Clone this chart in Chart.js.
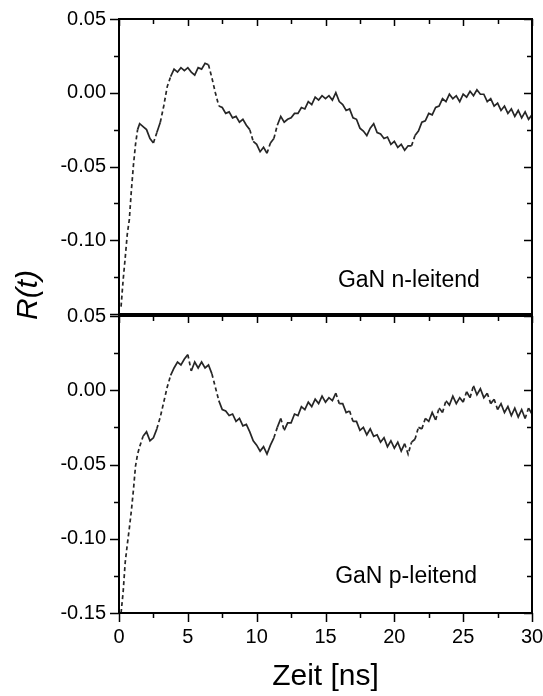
<!DOCTYPE html>
<html>
<head>
<meta charset="utf-8">
<script src="https://cdn.jsdelivr.net/npm/chart.js@4/dist/chart.umd.min.js"></script>
<style>
    html, body { margin: 0; padding: 0; background: #fff; }
    #wrap { position: relative; width: 543px; height: 696px; }
    #wrap canvas { position: absolute; left: 0; }
    #topChart { top: 0; }
    #botChart { top: 296px; }
</style>
</head>
<body>
<div id="wrap">
    <canvas id="topChart" width="543" height="330"></canvas>
    <canvas id="botChart" width="543" height="400"></canvas>
</div>
<script>
/* ---------------- Data ---------------- */

const times = [
    0.15, 0.3, 0.45, 0.6, 0.75, 0.9, 1.05, 1.2, 1.35, 1.5,
    1.75, 2.0, 2.25, 2.5, 2.75, 3.0, 3.25, 3.5, 3.75, 4.0,
    4.25, 4.5, 4.75, 5.0, 5.25, 5.5, 5.75, 6.0, 6.25, 6.5,
    6.75, 7.0, 7.25, 7.5, 7.75, 8.0, 8.25, 8.5, 8.75, 9.0,
    9.25, 9.5, 9.75, 10.0, 10.25, 10.5, 10.75, 11.0, 11.25, 11.5,
    11.75, 12.0, 12.25, 12.5, 12.75, 13.0, 13.25, 13.5, 13.75, 14.0,
    14.25, 14.5, 14.75, 15.0, 15.25, 15.5, 15.75, 16.0, 16.25, 16.5,
    16.75, 17.0, 17.25, 17.5, 17.75, 18.0, 18.25, 18.5, 18.75, 19.0,
    19.25, 19.5, 19.75, 20.0, 20.25, 20.5, 20.75, 21.0, 21.25, 21.5,
    21.75, 22.0, 22.25, 22.5, 22.75, 23.0, 23.25, 23.5, 23.75, 24.0,
    24.25, 24.5, 24.75, 25.0, 25.25, 25.5, 25.75, 26.0, 26.25, 26.5,
    26.75, 27.0, 27.25, 27.5, 27.75, 28.0, 28.25, 28.5, 28.75, 29.0,
    29.25, 29.5, 29.75, 30.0
];

// GaN n-leitend
const rN = [
    -0.145, -0.127, -0.112, -0.096, -0.086, -0.066, -0.049, -0.035, -0.025, -0.021,
    -0.023, -0.025, -0.031, -0.034, -0.027, -0.020, -0.009, 0.004, 0.011, 0.016,
    0.014, 0.017, 0.015, 0.017, 0.014, 0.012, 0.017, 0.016, 0.020, 0.019,
    0.010, 0.000, -0.009, -0.010, -0.014, -0.013, -0.017, -0.016, -0.020, -0.018,
    -0.022, -0.025, -0.033, -0.035, -0.040, -0.037, -0.041, -0.034, -0.031, -0.022,
    -0.016, -0.020, -0.018, -0.017, -0.014, -0.014, -0.010, -0.011, -0.006, -0.008,
    -0.003, -0.005, -0.002, -0.004, -0.002, -0.005, 0.000, -0.006, -0.008, -0.012,
    -0.011, -0.017, -0.018, -0.024, -0.026, -0.029, -0.024, -0.021, -0.027, -0.028,
    -0.031, -0.030, -0.035, -0.033, -0.037, -0.035, -0.039, -0.036, -0.036, -0.029,
    -0.026, -0.020, -0.019, -0.014, -0.015, -0.010, -0.009, -0.004, -0.006, -0.001,
    -0.004, -0.002, -0.006, -0.001, -0.003, 0.001, -0.002, 0.002, -0.001, -0.001,
    -0.006, -0.004, -0.009, -0.007, -0.012, -0.009, -0.014, -0.011, -0.016, -0.012,
    -0.017, -0.013, -0.018, -0.015
];

// GaN p-leitend
const rP = [
    -0.150, -0.136, -0.116, -0.104, -0.093, -0.081, -0.067, -0.051, -0.043, -0.038,
    -0.031, -0.028, -0.034, -0.032, -0.026, -0.018, -0.008, 0.002, 0.010, 0.015,
    0.019, 0.017, 0.021, 0.024, 0.013, 0.019, 0.015, 0.019, 0.015, 0.017,
    0.011, 0.002, -0.007, -0.013, -0.014, -0.017, -0.016, -0.021, -0.019, -0.024,
    -0.023, -0.028, -0.034, -0.037, -0.041, -0.038, -0.043, -0.037, -0.032, -0.025,
    -0.019, -0.027, -0.022, -0.022, -0.016, -0.017, -0.011, -0.013, -0.008, -0.011,
    -0.006, -0.009, -0.004, -0.008, -0.005, -0.007, -0.002, -0.009, -0.009, -0.015,
    -0.014, -0.021, -0.021, -0.027, -0.025, -0.030, -0.026, -0.031, -0.030, -0.035,
    -0.032, -0.038, -0.034, -0.039, -0.035, -0.041, -0.036, -0.043, -0.035, -0.033,
    -0.025, -0.026, -0.019, -0.021, -0.015, -0.020, -0.012, -0.015, -0.007, -0.010,
    -0.004, -0.009, -0.005, -0.008, -0.001, -0.005, 0.003, -0.003, 0.001, -0.005,
    -0.002, -0.009, -0.006, -0.013, -0.009, -0.015, -0.011, -0.017, -0.012, -0.018,
    -0.013, -0.019, -0.012, -0.016
];

const xMajorTicks = [0, 5, 10, 15, 20, 25, 30];
const xMinorTicks = [2.5, 7.5, 12.5, 17.5, 22.5, 27.5];
const yMajorTicks = [0.05, 0.00, -0.05, -0.10, -0.15];
const yMinorTicks = [0.025, -0.025, -0.075, -0.125];

const FONT = "'Liberation Sans', Arial, Helvetica, sans-serif";

/* ---------------- Helpers ---------------- */

function yLabel(v) {
    if (Math.abs(v) < 1e-9) return "0.00";
    return v.toFixed(2);
}

// short dashes where the trace is steep, like the sparse rise in the original
function steep(ctx) {
    const dx = Math.abs(ctx.p1.x - ctx.p0.x);
    const dy = Math.abs(ctx.p1.y - ctx.p0.y);
    return dy > 3 * dx ? [4, 3] : undefined;
}

// frame, ticks on all four sides, panel label
const framePlugin = {
    id: "frameTicks",
    afterDraw(chart, args, opts) {
        const { ctx, chartArea: a, scales } = chart;
        const sx = scales.x, sy = scales.y;
        ctx.save();
        ctx.strokeStyle = "#000";
        ctx.lineWidth = 1.5;
        ctx.beginPath();
        xMajorTicks.forEach(v => {
            const px = Math.round(sx.getPixelForValue(v)) + 0.5;
            ctx.moveTo(px, a.top); ctx.lineTo(px, a.top + 7);
            if (opts.bottom) { ctx.moveTo(px, a.bottom); ctx.lineTo(px, a.bottom + 9); }
        });
        xMinorTicks.forEach(v => {
            const px = Math.round(sx.getPixelForValue(v)) + 0.5;
            ctx.moveTo(px, a.top); ctx.lineTo(px, a.top + 5);
            if (opts.bottom) { ctx.moveTo(px, a.bottom); ctx.lineTo(px, a.bottom + 5); }
        });
        yMajorTicks.forEach(v => {
            const py = Math.round(sy.getPixelForValue(v)) + 0.5;
            ctx.moveTo(a.left - 9, py); ctx.lineTo(a.left, py);
            ctx.moveTo(a.right, py); ctx.lineTo(a.right - 8, py);
        });
        yMinorTicks.forEach(v => {
            const py = Math.round(sy.getPixelForValue(v)) + 0.5;
            ctx.moveTo(a.left - 5, py); ctx.lineTo(a.left, py);
            ctx.moveTo(a.right, py); ctx.lineTo(a.right - 5, py);
        });
        ctx.stroke();

        ctx.lineWidth = 2;
        ctx.strokeRect(a.left, a.top, a.right - a.left, a.bottom - a.top);

        ctx.fillStyle = "#000";
        ctx.font = "23px " + FONT;
        ctx.textAlign = "left";
        ctx.textBaseline = "alphabetic";
        ctx.fillText(opts.label, sx.getPixelForValue(opts.lx), sy.getPixelForValue(opts.ly));

        if (opts.yTitle) {
            ctx.translate(29, 295);
            ctx.rotate(-Math.PI / 2);
            ctx.font = "italic 30px " + FONT;
            ctx.textAlign = "center";
            ctx.textBaseline = "middle";
            ctx.fillText(opts.yTitle, 0, 0);
        }
        ctx.restore();
    }
};

function makeChart(id, series, pluginOpts, showX, padding) {
    return new Chart(document.getElementById(id), {
        type: "line",
        data: {
            datasets: [{
                data: times.map((t, i) => ({ x: t, y: series[i] })),
                borderColor: "#262626",
                borderWidth: 1.7,
                pointRadius: 0,
                tension: 0,
                segment: { borderDash: steep }
            }]
        },
        options: {
            responsive: false,
            animation: false,
            events: [],
            layout: { padding },
            plugins: {
                legend: { display: false },
                tooltip: { enabled: false },
                frameTicks: pluginOpts
            },
            scales: {
                x: {
                    type: "linear",
                    min: 0,
                    max: 30,
                    display: showX,
                    afterFit: s => {
                        s.height = showX ? 83 : 0;
                        s.paddingLeft = 0;
                        s.paddingRight = 0;
                    },
                    ticks: {
                        stepSize: 5,
                        color: "#000",
                        padding: 3,
                        maxRotation: 0,
                        font: { family: FONT, size: 20 }
                    },
                    grid: { drawOnChartArea: false, tickLength: 9, tickColor: "rgba(0,0,0,0)" },
                    border: { display: false },
                    title: {
                        display: true,
                        text: "Zeit [ns]",
                        color: "#000",
                        padding: { top: 0, bottom: 1 },
                        font: { family: FONT, size: 30 }
                    }
                },
                y: {
                    min: -0.15,
                    max: 0.05,
                    afterFit: s => { s.width = 119; },
                    ticks: {
                        stepSize: 0.05,
                        color: "#000",
                        padding: 4,
                        font: { family: FONT, size: 20 },
                        callback: v => (showX || v > -0.14) ? yLabel(v) : null
                    },
                    grid: { drawOnChartArea: false, tickLength: 9, tickColor: "rgba(0,0,0,0)" },
                    border: { display: false }
                }
            }
        },
        plugins: [framePlugin]
    });
}

/* ---------------- Charts ---------------- */

makeChart("topChart", rN,
    { label: "GaN n-leitend", lx: 15.9, ly: -0.1317, bottom: false, yTitle: "R(t)" },
    false, { top: 19, right: 11, bottom: 14, left: 0 });

makeChart("botChart", rP,
    { label: "GaN p-leitend", lx: 15.7, ly: -0.1297, bottom: true },
    true, { top: 20, right: 11, bottom: 0, left: 0 });
</script>
</body>
</html>
